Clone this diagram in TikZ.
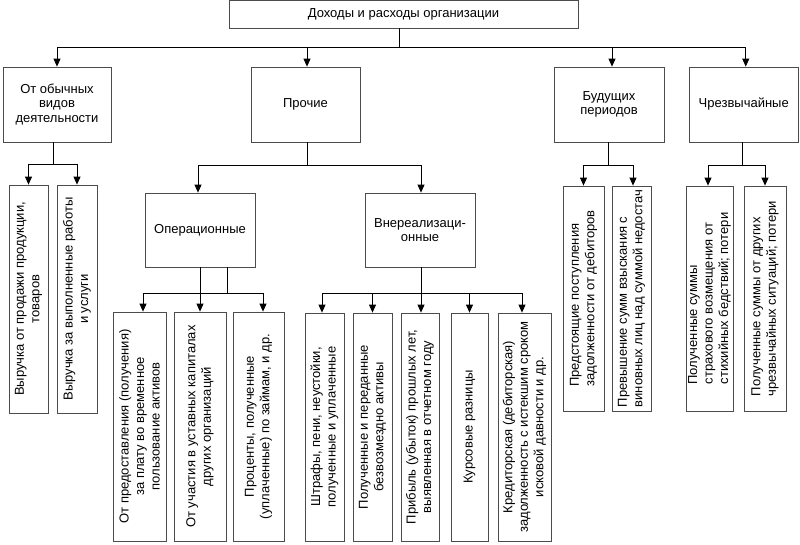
\documentclass[tikz,border=0pt]{standalone}
\usepackage{fontspec}
\setmainfont{Liberation Sans}
\usetikzlibrary{arrows.meta}
\definecolor{boxc}{gray}{0.3}
\begin{document}
\begin{tikzpicture}[x=1pt,y=-1pt,
  box/.style={draw=boxc, line width=0.8pt, fill=white, align=center, inner sep=1pt,
    font=\fontsize{13}{14.5}\selectfont},
  leaf/.style={box, rotate=90, font=\fontsize{13}{15.5}\selectfont},
  lleaf/.style={leaf, align=left},
  conn/.style={line width=0.8pt, draw=black},
  arr/.style={conn, -{Triangle[length=8pt,width=7pt]}}]
\useasboundingbox (0,0) rectangle (800,544);
% top level
\node[box, minimum width=349, minimum height=27.5] (top) at (403.5,14.25) {Доходы и расходы организации};
\node[box, minimum width=108, minimum height=75] (c1) at (57,104.5) {От обычных\\видов\\деятельности};
\node[box, minimum width=109, minimum height=75] (pr) at (305.5,104.5) {Прочие};
\node[box, minimum width=110, minimum height=75] (bu) at (609,104.5) {Будущих\\периодов};
\node[box, minimum width=109.5, minimum height=75] (ch) at (743.75,104.5) {Чрезвычайные};
% second level
\node[box, minimum width=110, minimum height=74] (op) at (200,230) {Операционные};
\node[box, minimum width=110, minimum height=74] (vn) at (420,230) {Внереализаци-\\онные};
% leaves
\node[leaf, minimum width=228, minimum height=39] (l1) at (28.5,299) {Выручка от продажи продукции,\\товаров};
\node[leaf, minimum width=228, minimum height=40] (l2) at (77,299) {Выручка за выполненные работы\\и услуги};
\node[leaf, minimum width=229, minimum height=53] (o1) at (139.5,426.5) {От предоставления (получения)\\за плату во временное\\пользование активов};
\node[leaf, minimum width=229, minimum height=52] (o2) at (200,426.5) {От участия в уставных капиталах\\других организаций};
\node[leaf, minimum width=229, minimum height=51] (o3) at (258.5,426.5) {Проценты, полученные\\(уплаченные) по займам, и др.};
\node[leaf, minimum width=228, minimum height=39] (v1) at (324.5,427) {Штрафы, пени, неустойки,\\полученные и уплаченные};
\node[leaf, minimum width=228, minimum height=39] (v2) at (372.5,427) {Полученные и переданные\\безвозмездно активы};
\node[leaf, minimum width=228, minimum height=38] (v3) at (420,427) {Прибыль (убыток) прошлых лет,\\выявленная в отчетном году};
\node[leaf, minimum width=228, minimum height=37] (v4) at (469.5,427) {Курсовые разницы};
\node[leaf, minimum width=228, minimum height=53] (v5) at (524.5,427) {Кредиторская (дебиторская)\\задолженность с истекшим сроком\\исковой давности и др.};
\node[lleaf, minimum width=225, minimum height=41] (b1) at (583.5,298.5) {Предстоящие поступления\\задолженности от дебиторов};
\node[lleaf, minimum width=225, minimum height=39] (b2) at (631.5,298.5) {Превышение сумм взыскания с\\виновных лиц над суммой недостач};
\node[lleaf, minimum width=225, minimum height=47] (h1) at (709.5,298.5) {Полученные суммы\\страхового возмещения от\\стихийных бедствий; потери};
\node[lleaf, minimum width=225, minimum height=42] (h2) at (765,298.5) {Полученные суммы от других\\чрезвычайных ситуаций; потери};
% junctions
\coordinate (j0) at (399,47);
\coordinate (j1) at (53,164);
\coordinate (j2) at (307,165);
\coordinate (j3) at (227,293);
\coordinate (j4) at (421,293);
\coordinate (j5) at (608,165);
\coordinate (j6) at (742,165);
% connectors
\draw[conn] (top.south -| j0) -- (j0);
\draw[arr] (j0) -| (c1.north);
\draw[arr] (j0) -| ([xshift=1.5pt]pr.north);
\draw[arr] (j0) -| ([xshift=3pt]bu.north);
\draw[arr] (j0) -| ([xshift=2pt]ch.north);
\draw[conn] (c1.south -| j1) -- (j1);
\draw[arr] (j1) -| (l1.east);
\draw[arr] (j1) -| (l2.east);
\draw[conn] (pr.south -| j2) -- (j2);
\draw[arr] (j2) -| ([xshift=-2pt]op.north);
\draw[arr] (j2) -| ([xshift=1pt]vn.north);
\draw[conn] (op.south -| j3) -- (j3);
\draw[arr] (op.south -| o2.east) -- (o2.east);
\draw[arr] (j3) -| ([xshift=3.5pt]o1.east);
\draw[arr] (j3) -| ([xshift=4.5pt]o3.east);
\draw[conn] (vn.south -| j4) -- (j4);
\draw[arr] (j4) -| ([xshift=-2.5pt]v1.east);
\draw[arr] (j4) -| (v2.east);
\draw[arr] (j4) -| ([xshift=1pt]v3.east);
\draw[arr] (j4) -| (v4.east);
\draw[arr] (j4) -| ([xshift=-2.5pt]v5.east);
\draw[conn] (bu.south -| j5) -- (j5);
\draw[arr] (j5) -| (b1.east);
\draw[arr] (j5) -| ([xshift=1.5pt]b2.east);
\draw[conn] (ch.south -| j6) -- (j6);
\draw[arr] (j6) -| ([xshift=-1.5pt]h1.east);
\draw[arr] (j6) -| (h2.east);
\end{tikzpicture}
\end{document}
